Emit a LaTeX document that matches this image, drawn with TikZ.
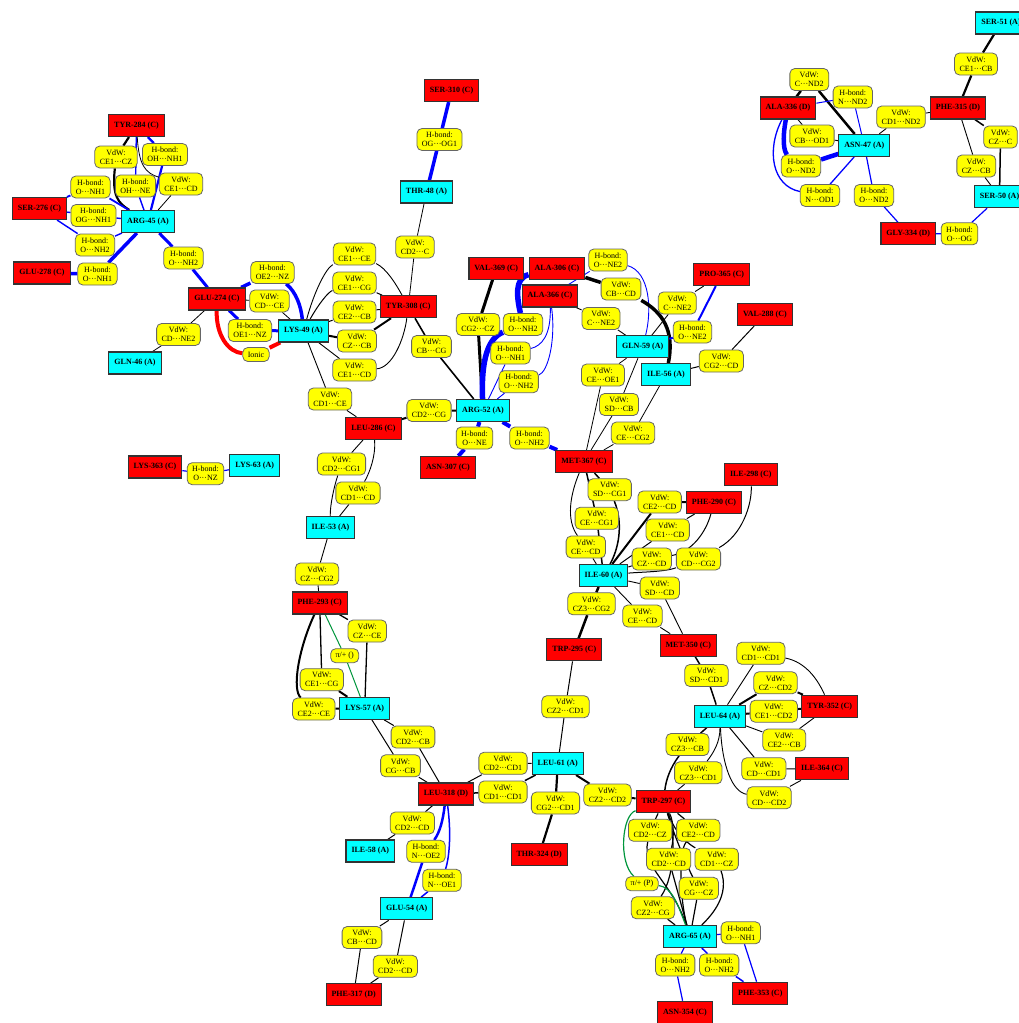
\documentclass[tikz,border=0pt]{standalone}
\usepackage{fontspec}
\setmainfont{Liberation Serif}
\pgfdeclarelayer{bglayer}
\pgfdeclarelayer{edgelayer}
\pgfsetlayers{bglayer,edgelayer,main}
\definecolor{resA}{RGB}{0,255,255}
\definecolor{resB}{RGB}{255,0,0}
\definecolor{labY}{RGB}{255,255,0}
\definecolor{hbBlue}{RGB}{0,0,255}
\definecolor{pigreen}{RGB}{0,150,60}
\definecolor{ionRed}{RGB}{255,0,0}
\tikzset{
  res/.style={draw=black!80, line width=1.1pt, minimum height=22pt, inner xsep=5.5pt, inner ysep=0pt, font=\fontsize{8}{9}\selectfont\bfseries},
  ra/.style={res, fill=resA},
  rc/.style={res, fill=resB},
  lab/.style={draw=black!60, line width=0.8pt, fill=labY, rounded corners=5pt, align=center, minimum height=22pt, inner xsep=5pt, inner ysep=1pt, font=\fontsize{8}{9}\selectfont},
  lab1/.style={lab, minimum height=14pt},
  vdw/.style={draw=black},
  hb/.style={draw=hbBlue},
  ion/.style={draw=ionRed},
  pia/.style={draw=pigreen}
}
\newcommand\iedge[5]{\draw[#1,line width=#2pt] (#3) -- (#4) (#4) -- (#5);}
\begin{document}
\begin{tikzpicture}[x=1pt,y=-1pt]
\begin{pgfonlayer}{bglayer}
\fill[white] (0,0) rectangle (1019,1023);
\end{pgfonlayer}
\path[use as bounding box] (0,0) rectangle (1019,1023);

% residues
\node[rc] (tyr284) at (136.5,125.5) {TYR-284 (C)};
\node[rc] (ser276) at (39.5,208.5) {SER-276 (C)};
\node[ra] (arg45) at (148,221.5) {ARG-45 (A)};
\node[rc] (glu278) at (42,273) {GLU-278 (C)};
\node[rc] (glu274) at (217,299) {GLU-274 (C)};
\node[ra] (lys49) at (303.5,331) {LYS-49 (A)};
\node[ra] (gln46) at (135,363) {GLN-46 (A)};
\node[rc] (ser310) at (451.5,90.5) {SER-310 (C)};
\node[ra] (thr48) at (426.5,192) {THR-48 (A)};
\node[rc] (tyr308) at (408.3,306.7) {TYR-308 (C)};
\node[rc] (leu286) at (373.5,428.3) {LEU-286 (C)};
\node[ra] (arg52) at (483,410.5) {ARG-52 (A)};
\node[rc] (val369) at (496.3,268.3) {VAL-369 (C)};
\node[rc] (ala306) at (557,268.3) {ALA-306 (C)};
\node[rc] (ala366) at (550,296) {ALA-366 (C)};
\node[rc] (asn307) at (448,467.5) {ASN-307 (C)};
\node[rc] (met367) at (584,461.5) {MET-367 (C)};
\node[ra] (gln59) at (642.7,346.7) {GLN-59 (A)};
\node[ra] (ile56) at (666,374.5) {ILE-56 (A)};
\node[rc] (pro365) at (721.7,274.5) {PRO-365 (C)};
\node[rc] (val288) at (765,314.5) {VAL-288 (C)};
\node[ra] (ser51) at (1001,23) {SER-51 (A)};
\node[rc] (ala336) at (788,108) {ALA-336 (D)};
\node[rc] (phe315) at (958,108) {PHE-315 (D)};
\node[ra] (asn47) at (864.3,145.5) {ASN-47 (A)};
\node[ra] (ser50) at (999.5,196.7) {SER-50 (A)};
\node[rc] (gly334) at (908.3,233.8) {GLY-334 (D)};
\node[rc] (lys363) at (155,467) {LYS-363 (C)};
\node[ra] (lys63) at (254.7,465.5) {LYS-63 (A)};
\node[ra] (ile53) at (330.5,527.5) {ILE-53 (A)};
\node[rc] (phe293) at (319.7,603) {PHE-293 (C)};
\node[ra] (lys57) at (364.7,708.3) {LYS-57 (A)};
\node[rc] (leu318) at (446,794) {LEU-318 (D)};
\node[ra] (leu61) at (557.8,763.5) {LEU-61 (A)};
\node[rc] (trp295) at (574.3,649.8) {TRP-295 (C)};
\node[ra] (ile58) at (370.3,851) {ILE-58 (A)};
\node[ra] (glu54) at (406.7,908.8) {GLU-54 (A)};
\node[rc] (phe317) at (353.7,994.7) {PHE-317 (D)};
\node[rc] (thr324) at (539.2,854.7) {THR-324 (D)};
\node[rc] (phe290) at (714,502.5) {PHE-290 (C)};
\node[rc] (ile298) at (750.8,474.8) {ILE-298 (C)};
\node[ra] (ile60) at (603.5,575.5) {ILE-60 (A)};
\node[rc] (met350) at (688.3,645.2) {MET-350 (C)};
\node[ra] (leu64) at (720,716.2) {LEU-64 (A)};
\node[rc] (tyr352) at (829.7,706.2) {TYR-352 (C)};
\node[rc] (ile364) at (822,768.8) {ILE-364 (C)};
\node[rc] (trp297) at (663.5,801.8) {TRP-297 (C)};
\node[ra] (arg65) at (690,936.5) {ARG-65 (A)};
\node[rc] (phe353) at (760.3,993.2) {PHE-353 (C)};
\node[rc] (asn354) at (685,1012.3) {ASN-354 (C)};

% interaction labels
\node[lab] (L1) at (116,157) {VdW:\\CE1···CZ};
\node[lab] (L2) at (165,154.5) {H-bond:\\OH···NH1};
\node[lab] (L3) at (90.5,187) {H-bond:\\O···NH1};
\node[lab] (L4) at (135.5,186) {H-bond:\\OH···NE};
\node[lab] (L5) at (181,184) {VdW:\\CE1···CD};
\node[lab] (L6) at (93.5,215.5) {H-bond:\\OG···NH1};
\node[lab] (L7) at (95,245) {H-bond:\\O···NH2};
\node[lab] (L8) at (97.5,274) {H-bond:\\O···NH1};
\node[lab] (L9) at (183.5,258) {H-bond:\\O···NH2};
\node[lab] (L10) at (272.5,272.5) {H-bond:\\OE2···NZ};
\node[lab] (L11) at (269.5,301) {VdW:\\CD···CE};
\node[lab] (L12) at (250,330.5) {H-bond:\\OE1···NZ};
\node[lab] (L13) at (178.5,334.5) {VdW:\\CD···NE2};
\node[lab1] (L14) at (256,354.5) {Ionic};
\node[lab] (L15) at (439.5,139.5) {H-bond:\\OG···OG1};
\node[lab] (L16) at (415,247) {VdW:\\CD2···C};
\node[lab] (L17) at (354.5,254) {VdW:\\CE1···CE};
\node[lab] (L18) at (354.5,283) {VdW:\\CE1···CG};
\node[lab] (L19) at (354.5,312) {VdW:\\CE2···CB};
\node[lab] (L20) at (357,341) {VdW:\\CZ···CB};
\node[lab] (L21) at (354.5,370) {VdW:\\CE1···CD};
\node[lab] (L22) at (330,399) {VdW:\\CD1···CE};
\node[lab] (L23) at (429,410.5) {VdW:\\CD2···CG};
\node[lab] (L24) at (431.5,346.5) {VdW:\\CB···CG};
\node[lab] (L25) at (608,260) {H-bond:\\O···NE2};
\node[lab] (L26) at (621,289) {VdW:\\CB···CD};
\node[lab] (L27) at (601,318.5) {VdW:\\C···NE2};
\node[lab] (L28) at (478,324.5) {VdW:\\CG2···CZ};
\node[lab] (L29) at (523,324.5) {H-bond:\\O···NH2};
\node[lab] (L30) at (510.5,353) {H-bond:\\O···NH1};
\node[lab] (L31) at (518.7,381.7) {H-bond:\\O···NH2};
\node[lab] (L32) at (474.5,438) {H-bond:\\O···NE};
\node[lab] (L33) at (529.5,438) {H-bond:\\O···NH2};
\node[lab] (L34) at (603,375) {VdW:\\CE···OE1};
\node[lab] (L35) at (619,404.5) {VdW:\\SD···CB};
\node[lab] (L36) at (633,433) {VdW:\\CE···CG2};
\node[lab] (L37) at (677.3,303) {VdW:\\C···NE2};
\node[lab] (L38) at (692.5,332) {H-bond:\\O···NE2};
\node[lab] (L39) at (721.3,361) {VdW:\\CG2···CD};
\node[lab] (L40) at (976,64) {VdW:\\CE1···CB};
\node[lab] (L41) at (809.3,79.5) {VdW:\\C···ND2};
\node[lab] (L42) at (852.8,97) {H-bond:\\N···ND2};
\node[lab] (L43) at (901,117) {VdW:\\CD1···ND2};
\node[lab] (L44) at (812,136) {VdW:\\CB···OD1};
\node[lab] (L45) at (1000.5,137) {VdW:\\CZ···C};
\node[lab] (L46) at (801,166) {H-bond:\\O···ND2};
\node[lab] (L47) at (976.3,166) {VdW:\\CZ···CB};
\node[lab] (L48) at (820,195.5) {H-bond:\\N···OD1};
\node[lab] (L49) at (874,195.5) {H-bond:\\O···ND2};
\node[lab] (L50) at (959.5,233.8) {H-bond:\\O···OG};
\node[lab] (L51) at (205.5,473.7) {H-bond:\\O···NZ};
\node[lab] (L52) at (341.5,464) {VdW:\\CD2···CG1};
\node[lab] (L53) at (358,493) {VdW:\\CD1···CD};
\node[lab] (L54) at (317,574) {VdW:\\CZ···CG2};
\node[lab] (L55) at (367.3,631) {VdW:\\CZ···CE};
\node[lab1] (L56) at (344.7,655.7) {π/+ ()};
\node[lab] (L57) at (321.8,679.7) {VdW:\\CE1···CG};
\node[lab] (L58) at (313.8,709) {VdW:\\CE2···CE};
\node[lab] (L59) at (413,737) {VdW:\\CD2···CB};
\node[lab] (L60) at (400.5,765.8) {VdW:\\CG···CB};
\node[lab] (L61) at (503,763.3) {VdW:\\CD2···CD1};
\node[lab] (L62) at (503,792) {VdW:\\CD1···CD1};
\node[lab] (L63) at (565.5,706.7) {VdW:\\CZ2···CD1};
\node[lab] (L64) at (591.5,603.8) {VdW:\\CZ3···CG2};
\node[lab] (L65) at (555.5,803) {VdW:\\CG2···CD1};
\node[lab] (L66) at (607.5,795) {VdW:\\CZ2···CD2};
\node[lab] (L67) at (412.3,823) {VdW:\\CD2···CD};
\node[lab] (L68) at (426,851.3) {H-bond:\\N···OE2};
\node[lab] (L69) at (442,880.3) {H-bond:\\N···OE1};
\node[lab] (L70) at (362,937.5) {VdW:\\CB···CD};
\node[lab] (L71) at (395.3,966.3) {VdW:\\CD2···CD};
\node[lab] (L72) at (609.7,489.7) {VdW:\\SD···CG1};
\node[lab] (L73) at (596.8,518.3) {VdW:\\CE···CG1};
\node[lab] (L74) at (585.8,547) {VdW:\\CE···CD};
\node[lab] (L75) at (659.7,502) {VdW:\\CE2···CD};
\node[lab] (L76) at (667.7,530) {VdW:\\CE1···CD};
\node[lab] (L77) at (651.8,559) {VdW:\\CZ···CD};
\node[lab] (L78) at (698.5,559) {VdW:\\CD···CG2};
\node[lab] (L79) at (659.8,588) {VdW:\\SD···CD};
\node[lab] (L80) at (642.5,616) {VdW:\\CE···CD};
\node[lab] (L81) at (706.5,675.5) {VdW:\\SD···CD1};
\node[lab] (L82) at (760.8,653.3) {VdW:\\CD1···CD1};
\node[lab] (L83) at (775.5,682.8) {VdW:\\CZ···CD2};
\node[lab] (L84) at (773.8,711.2) {VdW:\\CE1···CD2};
\node[lab] (L85) at (784.2,740) {VdW:\\CE2···CB};
\node[lab] (L86) at (687.5,744.5) {VdW:\\CZ3···CB};
\node[lab] (L87) at (698.3,772.8) {VdW:\\CZ3···CD1};
\node[lab] (L88) at (763.8,768.8) {VdW:\\CD···CD1};
\node[lab] (L89) at (769.2,797.8) {VdW:\\CD···CD2};
\node[lab] (L90) at (650.2,830.3) {VdW:\\CD2···CZ};
\node[lab] (L91) at (698.3,830.3) {VdW:\\CE2···CD};
\node[lab] (L92) at (668.7,859.2) {VdW:\\CD2···CD};
\node[lab] (L93) at (716.7,859.2) {VdW:\\CD1···CZ};
\node[lab1] (L94) at (642,883.7) {π/+ (P)};
\node[lab] (L95) at (698.8,888.3) {VdW:\\CG···CZ};
\node[lab] (L96) at (653,907.8) {VdW:\\CZ2···CG};
\node[lab] (L97) at (740.8,932.8) {H-bond:\\O···NH1};
\node[lab] (L98) at (675.2,965) {H-bond:\\O···NH2};
\node[lab] (L99) at (719.2,965) {H-bond:\\O···NH2};

\begin{pgfonlayer}{edgelayer}
% ARG-45 cluster
\draw[vdw,line width=2.2pt] (tyr284) -- (L1) (L1) .. controls (112,196) and (118,203) .. (arg45);
\iedge{hb}{2.2}{tyr284}{L2}{arg45}
\iedge{hb}{1.4}{tyr284}{L4}{arg45}
\draw[vdw,line width=0.8pt] (tyr284) .. controls (139,165) and (145,173) .. (L5) (L5) -- (arg45);
\iedge{hb}{1.8}{ser276}{L3}{arg45}
\iedge{hb}{1.4}{ser276}{L6}{arg45}
\iedge{hb}{1.4}{ser276}{L7}{arg45}
\iedge{hb}{3.5}{glu278}{L8}{arg45}
\iedge{hb}{3}{arg45}{L9}{glu274}
% GLU-274 / LYS-49
\draw[hb,line width=3.5pt] (glu274) -- (L10) (L10) .. controls (296,292) and (301,306) .. (lys49);
\iedge{vdw}{0.8}{glu274}{L11}{lys49}
\iedge{hb}{3}{glu274}{L12}{lys49}
\draw[ion,line width=4pt] (glu274) .. controls (216,335) and (228,352) .. (L14) (L14) -- (lys49);
\iedge{vdw}{0.8}{glu274}{L13}{gln46}
% LYS-49 / TYR-308
\draw[vdw,line width=0.9pt] (lys49) .. controls (314,292) and (326,268) .. (L17) (L17) .. controls (386,268) and (396,284) .. (tyr308);
\draw[vdw,line width=1pt] (lys49) .. controls (318,305) and (328,292) .. (L18) (L18) -- (tyr308);
\iedge{vdw}{1}{lys49}{L19}{tyr308}
\iedge{vdw}{2}{lys49}{L20}{tyr308}
\draw[vdw,line width=0.9pt] (lys49) -- (L21) (L21) .. controls (392,368) and (404,340) .. (tyr308);
\iedge{vdw}{0.9}{lys49}{L22}{leu286}
\iedge{vdw}{0.8}{thr48}{L16}{tyr308}
\iedge{hb}{3.5}{ser310}{L15}{thr48}
\iedge{vdw}{1.6}{tyr308}{L24}{arg52}
\iedge{vdw}{2}{leu286}{L23}{arg52}
% ARG-52 cluster
\iedge{vdw}{3}{val369}{L28}{arg52}
\draw[hb,line width=5.5pt] (ala306) .. controls (514,278) and (517,298) .. (L29) (L29) .. controls (488,338) and (481,360) .. (arg52);
\draw[hb,line width=0.9pt] (ala366) .. controls (551,335) and (542,346) .. (L30) (L30) -- (arg52);
\draw[hb,line width=0.9pt] (ala366) .. controls (556,340) and (548,372) .. (L31) (L31) -- (arg52);
\draw[hb,line width=0.9pt] (ala366) -- (L25) (L25) .. controls (650,272) and (652,310) .. (gln59);
\draw[vdw,line width=3.5pt] (ala306) -- (L26) (L26) .. controls (662,312) and (675,330) .. (ile56);
\iedge{vdw}{0.9}{ala366}{L27}{gln59}
\iedge{vdw}{0.9}{gln59}{L37}{pro365}
\iedge{hb}{2}{gln59}{L38}{pro365}
\iedge{vdw}{1}{ile56}{L39}{val288}
\iedge{hb}{4}{arg52}{L32}{asn307}
\iedge{hb}{4}{arg52}{L33}{met367}
\iedge{vdw}{0.8}{gln59}{L34}{met367}
\iedge{vdw}{0.8}{gln59}{L35}{met367}
\iedge{vdw}{0.8}{ile56}{L36}{met367}
% MET-367 / ILE-60
\draw[vdw,line width=1.5pt] (met367) -- (L72) (L72) .. controls (624,525) and (618,550) .. (ile60);
\iedge{vdw}{1.5}{met367}{L73}{ile60}
\draw[vdw,line width=0.9pt] (met367) .. controls (570,495) and (566,520) .. (L74) (L74) -- (ile60);
\iedge{vdw}{2}{ile60}{L75}{phe290}
\iedge{vdw}{1}{ile60}{L76}{phe290}
\draw[vdw,line width=1pt] (ile60) -- (L77) (L77) .. controls (692,552) and (706,532) .. (phe290);
\draw[vdw,line width=1pt] (ile60) .. controls (640,572) and (665,572) .. (L78) (L78) .. controls (742,535) and (752,505) .. (ile298);
\iedge{vdw}{0.9}{ile60}{L79}{met350}
\iedge{vdw}{0.9}{ile60}{L80}{met350}
\iedge{vdw}{2.5}{ile60}{L64}{trp295}
\iedge{vdw}{1}{trp295}{L63}{leu61}
\iedge{vdw}{1.5}{met350}{L81}{leu64}
% LEU-64
\draw[vdw,line width=0.9pt] (leu64) -- (L82) (L82) .. controls (806,662) and (818,680) .. (tyr352);
\iedge{vdw}{2}{leu64}{L83}{tyr352}
\iedge{vdw}{2}{leu64}{L84}{tyr352}
\iedge{vdw}{0.9}{leu64}{L85}{tyr352}
\iedge{vdw}{1}{leu64}{L88}{ile364}
\draw[vdw,line width=0.9pt] (leu64) .. controls (722,765) and (732,792) .. (L89) (L89) -- (ile364);
\draw[vdw,line width=1.5pt] (leu64) -- (L86) (L86) .. controls (670,768) and (666,780) .. (trp297);
\draw[vdw,line width=0.9pt] (leu64) .. controls (720,742) and (714,752) .. (L87) (L87) -- (trp297);
% LEU-318 / LEU-61
\iedge{vdw}{1}{leu318}{L61}{leu61}
\iedge{vdw}{1.5}{leu318}{L62}{leu61}
\iedge{vdw}{2.2}{leu61}{L65}{thr324}
\iedge{vdw}{2}{leu61}{L66}{trp297}
\iedge{vdw}{1}{lys57}{L59}{leu318}
\iedge{vdw}{1}{lys57}{L60}{leu318}
\iedge{vdw}{1}{leu318}{L67}{ile58}
\draw[hb,line width=2.5pt] (leu318) .. controls (443,820) and (440,832) .. (L68) (L68) -- (glu54);
\draw[hb,line width=1.5pt] (leu318) .. controls (451,830) and (450,855) .. (L69) (L69) -- (glu54);
\iedge{vdw}{1}{glu54}{L70}{phe317}
\iedge{vdw}{1}{glu54}{L71}{phe317}
% left side
\draw[vdw,line width=0.9pt] (leu286) -- (L52) (L52) .. controls (334,487) and (330,505) .. (ile53);
\draw[vdw,line width=0.9pt] (leu286) .. controls (376,455) and (370,472) .. (L53) (L53) -- (ile53);
\iedge{vdw}{0.9}{ile53}{L54}{phe293}
\iedge{vdw}{1.3}{phe293}{L55}{lys57}
\iedge{pia}{1}{phe293}{L56}{lys57}
\draw[vdw,line width=1.3pt] (phe293) -- (L57);
\draw[vdw,line width=2pt] (L57) -- (lys57);
\draw[vdw,line width=2pt] (phe293) .. controls (298,650) and (292,690) .. (L58) (L58) -- (lys57);
\iedge{hb}{1.2}{lys363}{L51}{lys63}
% TRP-297 / ARG-65
\draw[vdw,line width=1.2pt] (trp297) -- (L90) (L90) .. controls (642,868) and (672,882) .. (arg65);
\draw[vdw,line width=1.2pt] (trp297) -- (L91) (L91) .. controls (678,850) and (680,900) .. (arg65);
\draw[vdw,line width=1.2pt] (trp297) .. controls (674,822) and (674,838) .. (L92) (L92) -- (arg65);
\draw[vdw,line width=1.2pt] (trp297) .. controls (676,835) and (690,845) .. (L93) (L93) .. controls (730,895) and (712,915) .. (arg65);
\draw[vdw,line width=1.2pt] (trp297) .. controls (676,840) and (688,868) .. (L95) (L95) -- (arg65);
\draw[vdw,line width=1.2pt] (trp297) .. controls (675,830) and (676,875) .. (L96) (L96) -- (arg65);
\draw[pia,line width=1.2pt] (trp297) .. controls (622,815) and (618,862) .. (L94) (L94) .. controls (672,887) and (678,905) .. (arg65);
\iedge{hb}{1.2}{arg65}{L97}{phe353}
\iedge{hb}{1.2}{arg65}{L98}{asn354}
\iedge{hb}{1.5}{arg65}{L99}{phe353}
% top right
\iedge{vdw}{2.2}{ser51}{L40}{phe315}
\iedge{vdw}{2.5}{ala336}{L41}{asn47}
\iedge{hb}{1}{ala336}{L42}{asn47}
\iedge{vdw}{0.9}{phe315}{L43}{asn47}
\iedge{vdw}{0.9}{ala336}{L44}{asn47}
\draw[hb,line width=4.5pt] (ala336) .. controls (782,140) and (784,152) .. (L46) (L46) -- (asn47);
\draw[hb,line width=1.3pt] (ala336) .. controls (766,150) and (772,186) .. (L48) (L48) -- (asn47);
\iedge{hb}{1.2}{asn47}{L49}{gly334}
\iedge{vdw}{1.5}{phe315}{L45}{ser50}
\iedge{vdw}{0.9}{phe315}{L47}{ser50}
\iedge{hb}{1.2}{gly334}{L50}{ser50}
\end{pgfonlayer}
\end{tikzpicture}
\end{document}
